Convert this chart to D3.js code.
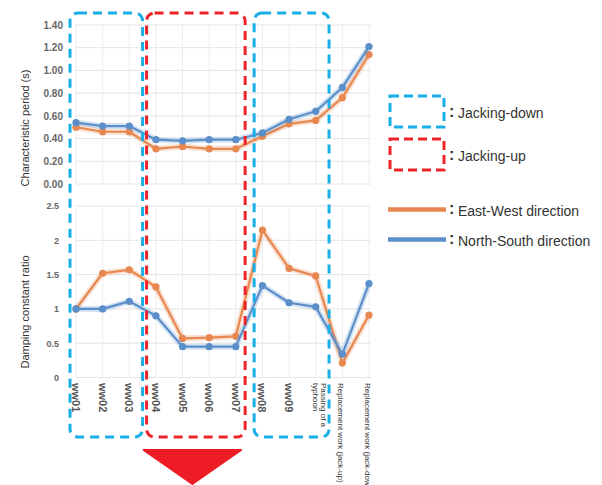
<!DOCTYPE html>
<html>
<head>
<meta charset="utf-8">
<script src="https://cdn.jsdelivr.net/npm/d3@7"></script>
<style>
  html, body { margin: 0; padding: 0; background: #fff; }
  svg { display: block; font-family: "Liberation Sans", Arial, sans-serif; }
</style>
</head>
<body>
<svg id="chart" width="602" height="485"></svg>
<script>
// ---- data ----
const categories = ["ww01","ww02","ww03","ww04","ww05","ww06","ww07","ww08","ww09",
  "Passing of a typhoon","Replacement work (jack-up)","Replacement work (jack-down)"];
const categoryLabels = [["ww01"],["ww02"],["ww03"],["ww04"],["ww05"],["ww06"],["ww07"],["ww08"],["ww09"],
  ["Passing of a","typhoon"],["Replacement work (jack-up)"],["Replacement work (jack-down)"]];
const periodEW = [0.50,0.46,0.46,0.31,0.33,0.31,0.31,0.42,0.53,0.56,0.76,1.14];
const periodNS = [0.54,0.51,0.51,0.39,0.38,0.39,0.39,0.45,0.57,0.64,0.85,1.21];
const dampEW = [1.00,1.52,1.57,1.32,0.57,0.58,0.60,2.15,1.59,1.48,0.21,0.91];
const dampNS = [1.00,1.00,1.11,0.90,0.45,0.45,0.45,1.34,1.09,1.03,0.34,1.37];
const periodTicks = [0,0.2,0.4,0.6,0.8,1.0,1.2,1.4];
const dampTicks = [0,0.5,1,1.5,2,2.5];
const groups = [
  {from:0, to:2, kind:"down"},
  {from:3, to:6, kind:"up"},
  {from:7, to:9, kind:"down"}
];
const legendBoxes = [{kind:"down", label:"Jacking-down"},{kind:"up", label:"Jacking-up"}];
const legendLines = [{key:"EW", label:"East-West direction"},{key:"NS", label:"North-South direction"}];

// ---- styles ----
const colors = {EW:"#e8874f", NS:"#5b8fca", down:"#19aee8", up:"#ec2329"};
const svg = d3.select("#chart");

const x = d3.scalePoint().domain(categories).range([76, 369]);
const yTop = d3.scaleLinear().domain([0,1.4]).range([184, 25]);
const yBot = d3.scaleLinear().domain([0,2.5]).range([377.5, 206]);
const step = x.step();

// gridlines
function grid(y, ticks) {
  const g = svg.append("g");
  g.selectAll("line.h").data(ticks).join("line")
    .attr("x1", x.range()[0]).attr("x2", x.range()[1] + 2)
    .attr("y1", d => y(d)).attr("y2", d => y(d))
    .attr("stroke", "#e4e4e4").attr("stroke-width", 1);
  g.selectAll("line.v").data(categories).join("line")
    .attr("x1", d => x(d)).attr("x2", d => x(d))
    .attr("y1", y.range()[1]).attr("y2", y.range()[0])
    .attr("stroke", "#ececec").attr("stroke-width", 1);
}
grid(yTop, periodTicks);
grid(yBot, dampTicks);

// axes
const axTop = svg.append("g").attr("transform", `translate(${x.range()[0] - 10},0)`)
  .call(d3.axisLeft(yTop).tickValues(periodTicks).tickSize(0).tickFormat(d => d.toFixed(2)));
axTop.select(".domain").remove();
axTop.selectAll("text").attr("font-size", 10).attr("font-weight", "bold").attr("fill", "#666")
  .attr("font-family", "Liberation Sans, Arial, sans-serif");

const axBot = svg.append("g").attr("transform", `translate(${x.range()[0] - 14},0)`)
  .call(d3.axisLeft(yBot).tickValues(dampTicks).tickSize(0).tickFormat(d => String(d)));
axBot.select(".domain").remove();
axBot.selectAll("text").attr("font-size", 9).attr("font-weight", "bold").attr("fill", "#666")
  .attr("font-family", "Liberation Sans, Arial, sans-serif");

// axis titles
svg.append("text").attr("transform", "translate(29,128) rotate(-90)")
  .attr("text-anchor", "middle").attr("font-size", 11).attr("fill", "#333")
  .text("Characteristic period (s)");
svg.append("text").attr("transform", "translate(29,312) rotate(-90)")
  .attr("text-anchor", "middle").attr("font-size", 11).attr("fill", "#333")
  .text("Damping constant ratio");

// series
function series(y, vals, color) {
  const line = d3.line().x((d,i) => x(categories[i])).y(d => y(d));
  svg.append("path").datum(vals).attr("d", line).attr("fill", "none")
    .attr("stroke", color).attr("stroke-opacity", 0.25).attr("stroke-width", 6)
    .attr("stroke-linejoin", "round");
  svg.append("path").datum(vals).attr("d", line).attr("fill", "none")
    .attr("stroke", color).attr("stroke-width", 2.2).attr("stroke-linejoin", "round");
  svg.append("g").selectAll("circle").data(vals).join("circle")
    .attr("cx", (d,i) => x(categories[i])).attr("cy", d => y(d)).attr("r", 3.6)
    .attr("fill", color);
}
series(yTop, periodEW, colors.EW);
series(yTop, periodNS, colors.NS);
series(yBot, dampEW, colors.EW);
series(yBot, dampNS, colors.NS);

// category labels
const catG = svg.append("g");
categories.forEach((c, i) => {
  const lines = categoryLabels[i];
  const isCode = lines[0].startsWith("ww");
  const multi = lines.length > 1;
  const t = catG.append("text")
    .attr("transform", `translate(${x(c) + (multi ? 5 : -4)},383) rotate(90)`)
    .attr("font-size", isCode ? 11 : 8)
    .attr("font-weight", isCode ? "bold" : "normal")
    .attr("fill", isCode ? "#555" : "#333");
  lines.forEach((l, j) => {
    t.append("tspan").attr("x", 0).attr("dy", j === 0 ? 0 : "1.0em").text(l);
  });
});

// dashed group boxes
const boxG = svg.append("g");
groups.forEach(gr => {
  const left = gr.from === 0 ? x(categories[gr.from]) - 6 : x(categories[gr.from]) - step / 2 + (gr.kind === "up" ? 4 : 5);
  const right = x(categories[gr.to]) + step / 2 - (gr.kind === "up" ? 4 : 0);
  boxG.append("rect")
    .attr("x", left).attr("y", 13).attr("width", right - left).attr("height", 437 - 13)
    .attr("rx", 8).attr("ry", 8)
    .attr("fill", "none").attr("stroke", colors[gr.kind]).attr("stroke-width", 3)
    .attr("stroke-dasharray", "9,6");
});

// red arrow triangle under the jacking-up group
const upGroup = groups[1];
const triL = x(categories[upGroup.from]) - step / 2 + 1;
const triR = x(categories[upGroup.to]) + step / 2 - 8;
svg.append("path")
  .attr("d", `M${triL},450 L${triR},450 L${(triL + triR) / 2},484 Z`)
  .attr("fill", "#ee1d25").attr("stroke", "#ee1d25").attr("stroke-width", 2)
  .attr("stroke-linejoin", "round");

// legend
const lg = svg.append("g");
legendBoxes.forEach((d, i) => {
  const y0 = 96 + i * 43;
  lg.append("rect").attr("x", 390).attr("y", y0).attr("width", 54).attr("height", 31)
    .attr("fill", "none").attr("stroke", colors[d.kind]).attr("stroke-width", 3)
    .attr("stroke-dasharray", "9,5");
  lg.append("text").attr("x", 449).attr("y", y0 + 21).attr("font-size", 16).attr("font-weight", "bold")
    .attr("fill", "#333").text(":");
  lg.append("text").attr("x", 458).attr("y", y0 + 22).attr("font-size", 14).attr("fill", "#333").text(d.label);
});
legendLines.forEach((d, i) => {
  const y0 = 209.5 + i * 30;
  lg.append("line").attr("x1", 388).attr("x2", 446).attr("y1", y0).attr("y2", y0)
    .attr("stroke", colors[d.key]).attr("stroke-width", 4.5);
  lg.append("text").attr("x", 449).attr("y", y0 + 4).attr("font-size", 16).attr("font-weight", "bold")
    .attr("fill", "#333").text(":");
  lg.append("text").attr("x", 458).attr("y", y0 + 6).attr("font-size", 14).attr("fill", "#333").text(d.label);
});
</script>
</body>
</html>
